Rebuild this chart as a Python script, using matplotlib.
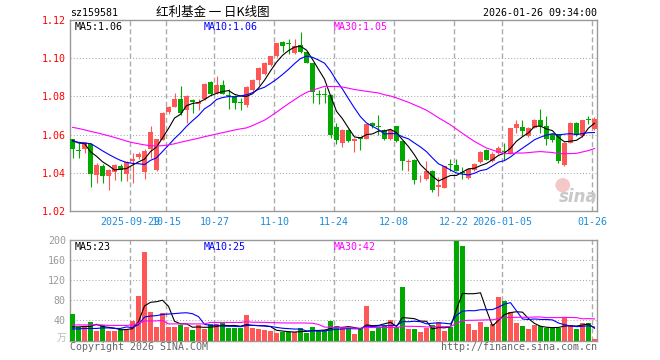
import numpy as np
import pandas as pd
import matplotlib
matplotlib.use('Agg')
import matplotlib.pyplot as plt
from matplotlib.patches import Ellipse

# ------------------
# data
# ------------------
openPrice = [1.0575, 1.0516, 1.0525, 1.0553, 1.0390, 1.0435, 1.0381, 1.0405, 1.0433, 1.0394,
             1.0461, 1.0481, 1.0402, 1.0522, 1.0414, 1.0574, 1.0716, 1.0747, 1.0786, 1.0728,
             1.0779, 1.0758, 1.0786, 1.0877, 1.0820, 1.0860, 1.0804, 1.0804, 1.0768, 1.0753,
             1.0833, 1.0886, 1.0916, 1.0963, 1.1009, 1.1083, 1.1076, 1.1026, 1.1068, 1.1032,
             1.0974, 1.0812, 1.0812, 1.0807, 1.0640, 1.0556, 1.0623, 1.0565, 1.0585, 1.0577,
             1.0661, 1.0647, 1.0623, 1.0577, 1.0644, 1.0565, 1.0454, 1.0468, 1.0365, 1.0367,
             1.0411, 1.0325, 1.0321, 1.0444, 1.0442, 1.0403, 1.0372, 1.0416, 1.0454, 1.0521,
             1.0460, 1.0503, 1.0514, 1.0500, 1.0635, 1.0640, 1.0591, 1.0635, 1.0675, 1.0644,
             1.0605, 1.0605, 1.0442, 1.0556, 1.0661, 1.0591, 1.0682, 1.0630]
closePrice = [1.0526, 1.0514, 1.0559, 1.0392, 1.0442, 1.0382, 1.0415, 1.0442, 1.0414, 1.0458,
              1.0473, 1.0499, 1.0514, 1.0613, 1.0575, 1.0712, 1.0747, 1.0786, 1.0712, 1.0800,
              1.0770, 1.0772, 1.0866, 1.0810, 1.0862, 1.0815, 1.0800, 1.0768, 1.0765, 1.0851,
              1.0886, 1.0948, 1.0974, 1.1009, 1.1079, 1.1065, 1.1072, 1.1065, 1.1033, 1.0977,
              1.0823, 1.0809, 1.0809, 1.0600, 1.0570, 1.0626, 1.0565, 1.0577, 1.0578, 1.0654,
              1.0644, 1.0640, 1.0577, 1.0623, 1.0565, 1.0460, 1.0460, 1.0360, 1.0368, 1.0411,
              1.0311, 1.0335, 1.0433, 1.0440, 1.0412, 1.0400, 1.0419, 1.0447, 1.0510, 1.0468,
              1.0500, 1.0530, 1.0511, 1.0633, 1.0653, 1.0618, 1.0633, 1.0675, 1.0644, 1.0577,
              1.0574, 1.0460, 1.0556, 1.0661, 1.0600, 1.0675, 1.0679, 1.0682]
highPrice = [1.0577, 1.0558, 1.0562, 1.0556, 1.0450, 1.0445, 1.0418, 1.0445, 1.0446, 1.0462,
             1.0505, 1.0508, 1.0526, 1.0645, 1.0578, 1.0716, 1.0752, 1.0818, 1.0853, 1.0805,
             1.0786, 1.0786, 1.0870, 1.0880, 1.0906, 1.0884, 1.0839, 1.0806, 1.0793, 1.0856,
             1.0890, 1.0955, 1.0978, 1.1012, 1.1082, 1.1088, 1.1100, 1.1100, 1.1138, 1.1037,
             1.0976, 1.0834, 1.0851, 1.0812, 1.0662, 1.0630, 1.0630, 1.0580, 1.0590, 1.0656,
             1.0665, 1.0700, 1.0628, 1.0628, 1.0646, 1.0565, 1.0472, 1.0470, 1.0390, 1.0460,
             1.0415, 1.0380, 1.0435, 1.0470, 1.0470, 1.0430, 1.0425, 1.0450, 1.0513, 1.0525,
             1.0510, 1.0542, 1.0556, 1.0635, 1.0679, 1.0679, 1.0640, 1.0680, 1.0732, 1.0696,
             1.0610, 1.0605, 1.0560, 1.0665, 1.0665, 1.0677, 1.0696, 1.0693]
lowPrice = [1.0476, 1.0475, 1.0502, 1.0326, 1.0345, 1.0344, 1.0308, 1.0362, 1.0358, 1.0358,
            1.0345, 1.0472, 1.0365, 1.0475, 1.0410, 1.0570, 1.0710, 1.0745, 1.0700, 1.0660,
            1.0712, 1.0730, 1.0780, 1.0805, 1.0815, 1.0810, 1.0732, 1.0733, 1.0730, 1.0745,
            1.0830, 1.0860, 1.0912, 1.0960, 1.1005, 1.1030, 1.1020, 1.1022, 1.1026, 1.0975,
            1.0768, 1.0758, 1.0768, 1.0580, 1.0553, 1.0535, 1.0560, 1.0507, 1.0518, 1.0575,
            1.0635, 1.0600, 1.0570, 1.0570, 1.0560, 1.0416, 1.0407, 1.0342, 1.0350, 1.0360,
            1.0300, 1.0279, 1.0320, 1.0410, 1.0410, 1.0367, 1.0365, 1.0412, 1.0450, 1.0465,
            1.0455, 1.0500, 1.0465, 1.0500, 1.0609, 1.0591, 1.0590, 1.0633, 1.0609, 1.0547,
            1.0560, 1.0451, 1.0437, 1.0556, 1.0595, 1.0590, 1.0653, 1.0625]
volume = [52, 27, 27, 36, 19, 30, 19, 19, 20, 21,
          39, 88, 176, 56, 27, 54, 27, 27, 31, 27,
          20, 30, 23, 33, 33, 34, 25, 25, 25, 50,
          25, 23, 21, 19, 14, 17, 17, 17, 24, 15,
          26, 18, 21, 39, 28, 25, 25, 12, 25, 68,
          18, 27, 28, 40, 27, 106, 22, 22, 16, 25,
          30, 36, 19, 27, 198, 189, 32, 20, 36, 26,
          32, 86, 78, 56, 34, 28, 22, 30, 28, 24,
          24, 24, 44, 30, 22, 34, 34, 2]

# moving average values at the left edge (they depend on days before the window)
priceMa5Head = [1.0570, 1.0556, 1.0553, 1.0510]
priceMa10Head = [1.0565, 1.0560, 1.0555, 1.0553, 1.0535, 1.0515, 1.0497, 1.0480, 1.0465]
priceMa30Head = [1.0638, 1.0632, 1.0625, 1.0617, 1.0610, 1.0602, 1.0594, 1.0585, 1.0576, 1.0566,
                 1.0558, 1.0552, 1.0546, 1.0542, 1.0540, 1.0542, 1.0546, 1.0552, 1.0560, 1.0567,
                 1.0574, 1.0581, 1.0589, 1.0596, 1.0603, 1.0610, 1.0617, 1.0624, 1.0630]
volMa5Head = [27, 27, 28, 28]
volMa10Head = [23, 23, 24, 24, 24, 25, 25, 24, 24]
volMa30Head = [31, 31, 31, 31, 31, 31, 30, 30, 30, 30,
               31, 34, 39, 39, 39, 40, 33, 33, 33, 33,
               33, 33, 33, 36, 36, 36, 36, 36, 36]

dateLabels = ['2025-09-29', '10-15', '10-27', '11-10', '11-24', '12-08', '12-22', '2026-01-05', '01-26']
dateIdx = [10, 16, 24, 34, 44, 54, 64, 72, 87]
priceTicks = [1.02, 1.04, 1.06, 1.08, 1.10, 1.12]
volTicks = [40, 80, 120, 160, 200]

# ------------------
# colours / helpers
# ------------------
upColor = '#FF5656'
downColor = '#00A800'
gridColor = '#AAAAAA'
frameColor = '#999999'
monoFont = ['DejaVu Sans Mono', 'Noto Sans CJK SC']
W, H = 660.0, 360.0

def moving_average(values, window, head):
    ma = pd.Series(values, dtype=float).rolling(window).mean()
    ma.iloc[:len(head)] = head
    return ma.values

def px_text(x, y, s, **kw):
    fig.text(x / W, 1 - y / H, s, va='center', **kw)

def style_axes(ax, ticks, tickLabels, labelColor, gridTicks):
    for sp in ax.spines.values():
        sp.set_color(frameColor)
        sp.set_linewidth(1.0)
    ax.set_xlim(-0.42, 87.42)
    ax.set_yticks(ticks)
    ax.set_yticklabels(tickLabels, family=monoFont, fontsize=7.2, color=labelColor)
    ax.tick_params(axis='y', length=0, pad=3)
    for t in gridTicks:
        ax.axhline(t, color=gridColor, lw=0.75, ls=(0, (1, 2)), zorder=0)
    for d in dateIdx:
        ax.axvline(d - 0.37, color=gridColor, lw=1.0, ls=(0, (3.6, 2.2)), zorder=0)

x = np.arange(len(closePrice))
o = np.array(openPrice)
c = np.array(closePrice)
up = c >= o
colors = np.where(up, upColor, downColor)

# ------------------
# figure
# ------------------
plt.rcParams['font.family'] = monoFont
fig = plt.figure(figsize=(6.6, 3.6), dpi=100)
fig.patch.set_facecolor('white')

axP = fig.add_axes([70 / W, 1 - 211 / H, 527 / W, 191 / H])
axV = fig.add_axes([70 / W, 1 - 340.5 / H, 527 / W, 100.5 / H])

# price panel
axP.set_ylim(1.02, 1.12)
style_axes(axP, priceTicks, ['%.2f' % t for t in priceTicks], 'red', priceTicks[1:-1])
axP.vlines(x, lowPrice, highPrice, colors=colors, lw=0.8, zorder=2)
bodyH = np.maximum(np.abs(c - o), 0.0005)
axP.bar(x, bodyH, bottom=np.minimum(o, c), width=0.82, color=colors, zorder=3)
axP.plot(x, moving_average(closePrice, 5, priceMa5Head), color='black', lw=0.8, zorder=4)
axP.plot(x, moving_average(closePrice, 10, priceMa10Head), color='#0000FF', lw=0.8, zorder=4)
axP.plot(x, moving_average(closePrice, 30, priceMa30Head), color='#FF00FF', lw=0.8, zorder=4)
axP.set_xticks(np.array(dateIdx) - 0.37)
axP.set_xticklabels(dateLabels, family=monoFont, fontsize=7.2, color='#1E8CDC')
axP.tick_params(axis='x', length=0, pad=4)

# sina watermark in the price panel
axP.add_patch(Ellipse((0.935, 0.135), 0.028, 0.075, transform=axP.transAxes,
                      facecolor='#F4C8C8', edgecolor='none', zorder=1))
axP.text(0.965, 0.075, 'sina', transform=axP.transAxes, ha='center', va='center',
         fontsize=12, color='#C8C8C8', family=['DejaVu Sans'], weight='bold',
         style='italic', zorder=1)

# volume panel
axV.set_ylim(0, 200)
style_axes(axV, volTicks, [str(t) for t in volTicks], '#999999', volTicks[:-1])
axV.bar(x, volume, width=0.82, color=colors, zorder=3)
axV.plot(x, moving_average(volume, 5, volMa5Head), color='black', lw=0.8, zorder=4)
axV.plot(x, moving_average(volume, 10, volMa10Head), color='#0000FF', lw=0.8, zorder=4)
axV.plot(x, moving_average(volume, 30, volMa30Head), color='#FF00FF', lw=0.8, zorder=4)
axV.set_xticks([])

# ------------------
# texts
# ------------------
px_text(70, 13, 'sz159581', fontsize=7.2, color='black')
px_text(213, 12.5, '红利基金 一 日K线图', fontsize=9, color='black',
        ha='center', family=['Noto Sans CJK SC'])
px_text(597, 13, '2026-01-26 09:34:00', fontsize=7.2, color='black', ha='right')
px_text(75, 26.5, 'MA5:1.06', fontsize=7.2, color='black')
px_text(204, 26.5, 'MA10:1.06', fontsize=7.2, color='#0000FF')
px_text(334, 26.5, 'MA30:1.05', fontsize=7.2, color='#FF00FF')
px_text(75, 246.5, 'MA5:23', fontsize=7.2, color='black')
px_text(204, 246.5, 'MA10:25', fontsize=7.2, color='#0000FF')
px_text(334, 246.5, 'MA30:42', fontsize=7.2, color='#FF00FF')
px_text(66, 338, '万', fontsize=7, color='#BBBBBB', ha='right', family=['Noto Sans CJK SC'])
px_text(70, 346.5, 'Copyright 2026 SINA.COM', fontsize=7.2, color='#666666')
px_text(597, 346.5, 'http://finance.sina.com.cn', fontsize=7.2, color='#666666', ha='right')

fig.savefig('out.png', dpi=100)
